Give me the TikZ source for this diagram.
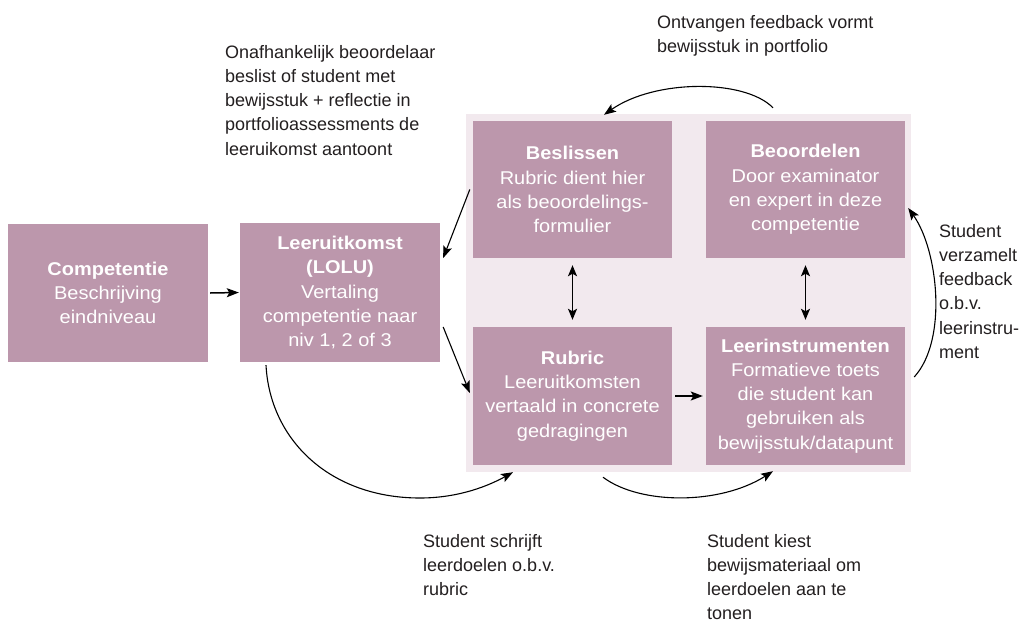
\documentclass[tikz,border=0pt]{standalone}
\usepackage{fontspec}
\setmainfont{Liberation Sans}
\newfontfamily\boxfont[FakeStretch=1.08]{Liberation Sans}
\usetikzlibrary{arrows.meta,calc}
\definecolor{boxfill}{RGB}{188,151,172}
\definecolor{panelfill}{RGB}{242,233,238}
\definecolor{labeltext}{RGB}{35,31,32}
\begin{document}
\begin{tikzpicture}[x=1pt,y=-1pt,
 box/.style={fill=boxfill, draw=none, minimum width=199pt, minimum height=138pt, inner sep=0pt, align=center, text=white, font=\boxfont\fontsize{18.5}{24.2}\selectfont},
 lbl/.style={anchor=north west, inner sep=0pt, align=left, text=labeltext, font=\fontsize{18}{24.25}\selectfont},
 arr/.style={draw=black, line width=1.1pt, -{Stealth[length=12pt,width=9pt,inset=2.5pt]}},
 darr/.style={draw=black, line width=1.6pt, {Stealth[length=11pt,width=9pt,inset=2.5pt]}-{Stealth[length=11pt,width=9pt,inset=2.5pt]}}
]
\useasboundingbox (0,0) rectangle (1031,624);
\fill[white] (0,0) rectangle (1031,624);

\node[fill=panelfill, minimum width=445pt, minimum height=358pt, inner sep=0pt] (panel) at (688.5,293) {};

\node[box, minimum width=200pt] (comp) at (108,293) {\textbf{Competentie}\\Beschrijving\\eindniveau};
\node[box, minimum width=200pt, minimum height=139pt] (lolu) at (340,292.5) {\textbf{Leeruitkomst}\\\textbf{(LOLU)}\\Vertaling\\competentie naar\\niv 1, 2 of 3};
\node[box, minimum height=137pt] (besl) at (572.5,189.5) {\textbf{Beslissen}\\Rubric dient hier\\als beoordelings-\\formulier};
\node[box, minimum height=137pt] (beoo) at (805.5,189.5) {\textbf{Beoordelen}\\Door examinator\\en expert in deze\\competentie};
\node[box] (rubr) at (572.5,396) {\textbf{Rubric}\\Leeruitkomsten\\vertaald in concrete\\gedragingen};
\node[box] (leer) at (805.5,396) {\textbf{Leerinstrumenten}\\Formatieve toets\\die student kan\\gebruiken als\\bewijsstuk/datapunt};

\draw[arr, line width=1.5pt] ($(comp.east)+(2,0)$) -- ($(lolu.west)+(-1,0)$);
\draw[arr] ($(besl.west)+(-3,0)$) -- ($(lolu.east)+(3,-34.5)$);
\draw[arr] ($(lolu.east)+(3,34.5)$) -- ($(rubr.west)+(-3,-3)$);
\draw[arr, line width=1.5pt] ($(rubr.east)+(3,0)$) -- ($(leer.west)+(-3,0)$);
\draw[darr] ($(besl.south)+(0,7)$) -- ($(rubr.north)+(0,-7)$);
\draw[darr] ($(beoo.south)+(0,7)$) -- ($(leer.north)+(0,-7)$);

\draw[arr] ($(beoo.north)+(-32.5,-13)$) .. controls (745,79) and (655,79) .. ($(besl.north)+(31.5,-6)$);
\draw[arr] ($(leer.east)+(9,-19)$) .. controls (948,340) and (938,250) .. ($(beoo.east)+(3,18.5)$);
\draw[arr] ($(lolu.south)+(-74,3)$) .. controls (270,440) and (330,498) .. (420,498) .. controls (460,498) and (490,485) .. ($(rubr.south)+(-59.5,7)$);
\draw[arr] ($(rubr.south)+(30.5,12)$) .. controls (640,505) and (720,505) .. ($(leer.south)+(-32.5,6)$);

\node[lbl] (l1) at (225,44.9) {Onafhankelijk beoordelaar\\beslist of student met\\bewijsstuk + reflectie in\\portfolioassessments de\\leeruikomst aantoont};
\node[lbl] (l2) at (657,14.9) {Ontvangen feedback vormt\\bewijsstuk in portfolio};
\node[lbl] (l3) at (939,223.9) {Student\\verzamelt\\feedback\\o.b.v.\\leerinstru-\\ment};
\node[lbl] (l4) at (423,533.9) {Student schrijft\\leerdoelen o.b.v.\\rubric};
\node[lbl] (l5) at (707,533.9) {Student kiest\\bewijsmateriaal om\\leerdoelen aan te\\tonen};
\end{tikzpicture}
\end{document}
